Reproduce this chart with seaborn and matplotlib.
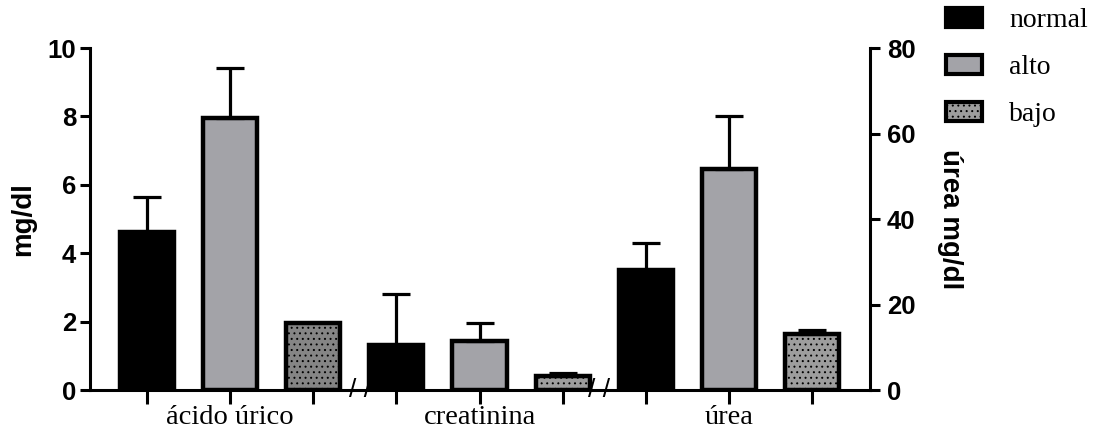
"""
Niveles de ácido úrico, creatinina y úrea por grupo (normal / alto / bajo).
Barras con error hacia arriba; úrea en el eje derecho.
"""

import matplotlib
matplotlib.use("Agg")
import matplotlib.pyplot as plt
from matplotlib.patches import Patch
import pandas as pd
import seaborn as sns

# datos
analitos = ["ácido úrico", "creatinina", "úrea"]
grupos = ["normal", "alto", "bajo"]

acido_media = [4.62, 7.95, 1.95]
acido_de = [1.02, 1.47, 0.0]
creat_media = [1.33, 1.42, 0.40]
creat_de = [1.47, 0.53, 0.09]
urea_media = [28.0, 51.7, 13.0]
urea_de = [6.5, 12.5, 1.0]

colores = {"normal": "#000000", "alto": "#a3a3a8", "bajo": "#9d9d9d"}
color_bajo_acido = "#858585"

SANS = ["Liberation Sans", "DejaVu Sans"]
SERIF = ["Liberation Serif", "DejaVu Serif"]

sns.set_style("ticks")
plt.rcParams["font.family"] = SANS
plt.rcParams["hatch.linewidth"] = 0.7
plt.rcParams["text.color"] = "black"
plt.rcParams["axes.labelcolor"] = "black"


def tabla(nombres, medias, des):
    filas = {"analito": [], "grupo": [], "media": [], "de": []}
    for nombre, med, de in zip(nombres, medias, des):
        for g, m, d in zip(grupos, med, de):
            filas["analito"].append(nombre)
            filas["grupo"].append(g)
            filas["media"].append(m)
            filas["de"].append(d)
    return pd.DataFrame(filas)


izq = tabla(analitos[:2], [acido_media, creat_media], [acido_de, creat_de])
der = tabla(analitos[2:], [urea_media], [urea_de])


def dibujar(ax, df):
    sns.barplot(data=df, x="analito", y="media", hue="grupo",
                order=analitos, hue_order=grupos, palette=colores,
                saturation=1, width=1.0, gap=0.35, errorbar=None,
                edgecolor="black", linewidth=3.2, legend=False, ax=ax)
    centros = []
    for bar in ax.patches:
        xc = bar.get_x() + bar.get_width() / 2
        cat = int(round(xc))
        h = int(round((xc - cat) * 3)) + 1
        fila = df[(df["analito"] == analitos[cat]) & (df["grupo"] == grupos[h])]
        if fila.empty:
            continue
        if grupos[h] == "bajo":
            bar.set_hatch("...")
            if cat == 0:
                bar.set_facecolor(color_bajo_acido)
        de = fila["de"].iloc[0]
        if de > 0:
            ax.errorbar(xc, bar.get_height(), yerr=[[0], [de]], fmt="none",
                        ecolor="black", elinewidth=2.3, capsize=10,
                        capthick=2.3, zorder=1)
        centros.append((xc, cat, h))
    return centros


fig = plt.figure(figsize=(10.93, 4.30), dpi=100)
ax = fig.add_axes([90 / 1093, 40 / 430, 780 / 1093, 342 / 430])
ax2 = ax.twinx()

centros = dibujar(ax, izq) + dibujar(ax2, der)
centros.sort()

ax.set_xlim(-0.562, 2.566)
ax.set_ylim(0, 10)
ax2.set_ylim(0, 80)
ax.set_yticks(range(0, 11, 2))
ax2.set_yticks(range(0, 81, 20))

ax.set_xticks([c[0] for c in centros])
ax.set_xticklabels([analitos[c[1]] if c[2] == 1 else "" for c in centros],
                   family=SERIF, fontsize=20.5)
ax.tick_params(axis="x", length=10, width=2.2, pad=1, colors="black")
ax.tick_params(axis="y", length=7, width=2.2, pad=3, colors="black",
               labelsize=18.5)
ax2.tick_params(axis="y", length=7, width=2.2, pad=5, colors="black",
                labelsize=18.5)
for lab in ax.get_yticklabels() + ax2.get_yticklabels():
    lab.set_fontweight("bold")

ax.set_xlabel("")
ax.set_ylabel("mg/dl", fontsize=20, fontweight="bold", va="center",
              color="black")
ax.yaxis.set_label_coords(-0.086, 0.5)
ax2.set_ylabel("úrea mg/dl", fontsize=20, fontweight="bold",
               rotation=270, va="center", color="black")
ax2.yaxis.set_label_coords(1.1026, 0.5)

for s in ["top", "right"]:
    ax.spines[s].set_visible(False)
for s in ["top", "left", "bottom"]:
    ax2.spines[s].set_visible(False)
for s in ["left", "bottom"]:
    ax.spines[s].set_linewidth(2.2)
    ax.spines[s].set_color("black")
ax2.spines["right"].set_linewidth(2.2)
ax2.spines["right"].set_color("black")

# cortes del eje x entre grupos
for x in [0.52, 1.48]:
    ax.text(x, 0, "/ /", transform=ax.get_xaxis_transform(), ha="center",
            va="center", fontsize=19, clip_on=False, color="black")

manijas = [Patch(facecolor=colores[g], edgecolor="black", linewidth=3,
                 hatch="..." if g == "bajo" else None) for g in grupos]
fig.legend(manijas, grupos, loc="upper left",
           bbox_to_anchor=(940 / 1093, 0.995), frameon=False,
           prop={"family": SERIF, "size": 20}, handlelength=1.3,
           handleheight=0.7, handletextpad=1.0, labelspacing=0.78,
           borderaxespad=0, borderpad=0.2)

fig.savefig("out.png", dpi=100)
plt.close(fig)
